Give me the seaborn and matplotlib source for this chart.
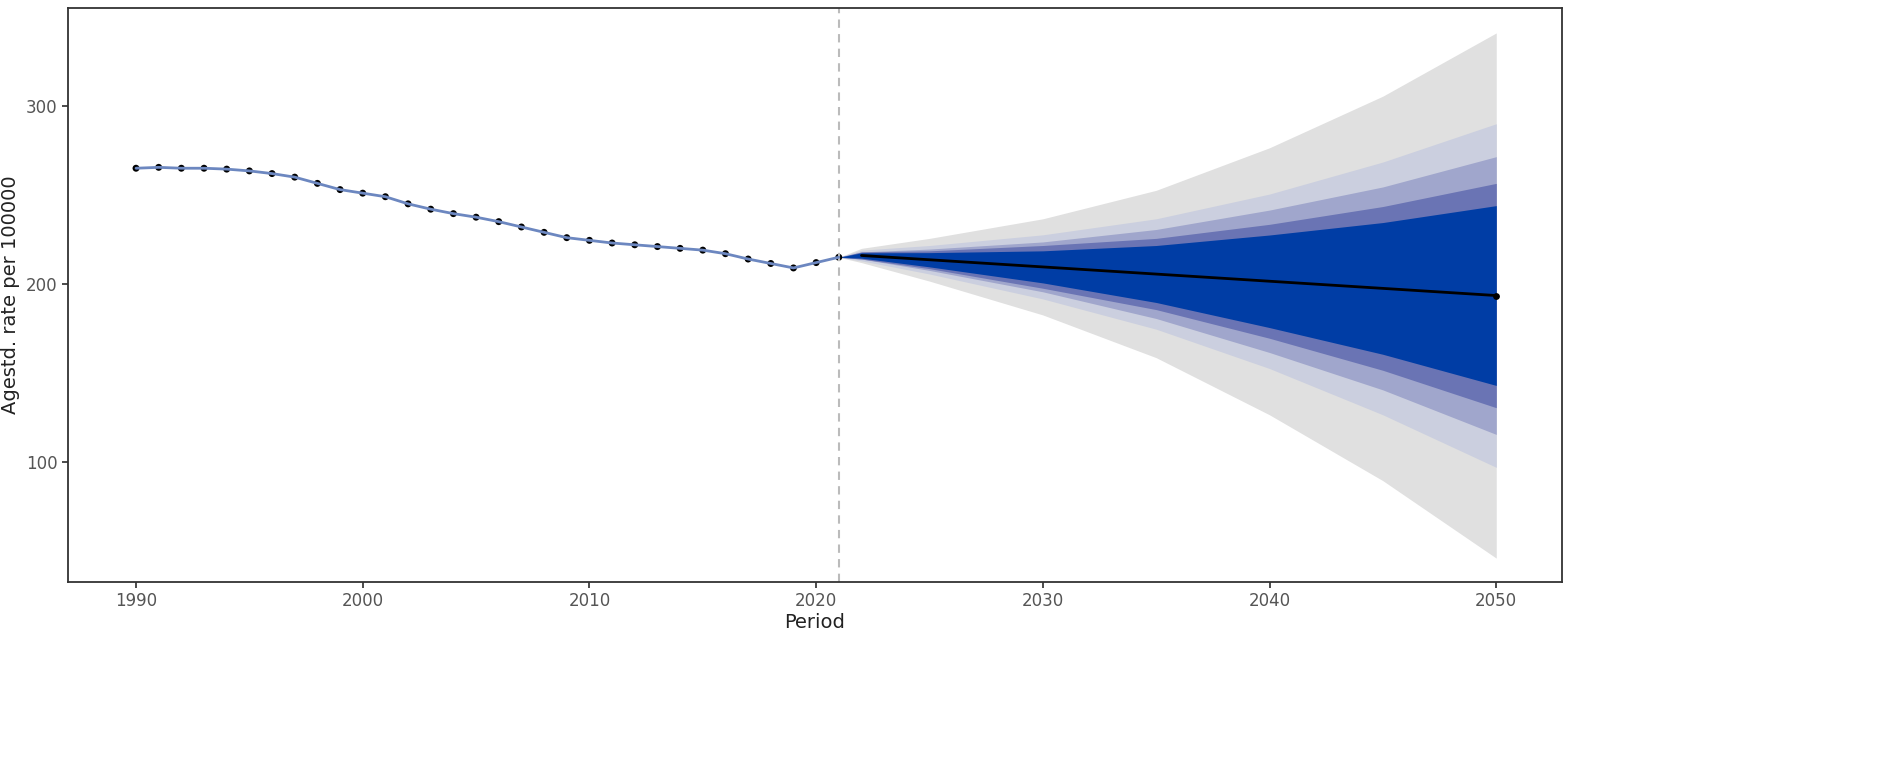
import matplotlib
matplotlib.use("Agg")
import matplotlib.pyplot as plt
import seaborn as sns
import pandas as pd
import numpy as np

obs_years = list(range(1990, 2022))
obs_rate = [265, 265.5, 265, 265, 264.5, 263.5, 262, 260, 256.5, 253, 251, 249, 245, 242,
            239.5, 237.5, 235, 232, 229, 226, 224.5, 223, 222, 221, 220, 219, 217, 214,
            211.5, 209, 212, 215]

fc_years = [2021, 2022, 2025, 2030, 2035, 2040, 2045, 2050]
fc_mean = [215, 216, 213.6, 209.6, 205.6, 201.5, 197.5, 193.5]
hw_outer = [0, 4, 12, 27, 47, 75, 108, 147.5]
hw_b2 = [0, 3, 8, 18, 31, 49, 71, 96.5]
hw_b3 = [0, 2, 6, 14, 25, 40, 57, 78]
hw_b4 = [0, 2, 5, 12, 20, 32, 46, 63]
hw_b5 = [0, 1.5, 4, 9, 16, 26, 37, 50.5]
band_colors = ["#E0E0E0", "#CBCFDF", "#A0A6CC", "#6A74B4", "#003DA5"]

sns.set_theme(style="white")
fig, ax = plt.subplots(figsize=(19.02, 7.7), dpi=100)
fig.subplots_adjust(left=0.036, right=0.821 + 0.0, top=0.99, bottom=0.245)
fig.subplots_adjust(left=0.036, right=0.821, top=0.99, bottom=0.245)
fig.subplots_adjust(left=68/1902, right=1562/1902, top=1-8/770, bottom=1-582/770)

m = np.array(fc_mean)
for hw, c in zip([hw_outer, hw_b2, hw_b3, hw_b4, hw_b5], band_colors):
    hw = np.array(hw)
    ax.fill_between(fc_years, m - hw, m + hw, color=c, linewidth=0)

ax.axvline(2021, color="#BBBBBB", linestyle=(0, (4, 3)), linewidth=1.5)

df = pd.DataFrame({"year": obs_years, "rate": obs_rate})
sns.lineplot(data=df, x="year", y="rate", color="#6C87C0", linewidth=2, ax=ax)
sns.scatterplot(data=df, x="year", y="rate", color="black", s=25, edgecolor="none", ax=ax)

dff = pd.DataFrame({"year": fc_years[1:], "rate": fc_mean[1:]})
sns.lineplot(data=dff.iloc[[0, -1]], x="year", y="rate", color="black", linewidth=2, ax=ax)
ax.scatter([fc_years[-1]], [fc_mean[-1]], color="black", s=15, zorder=5)

ax.set_xlim(1987.0, 2052.9)
ax.set_ylim(32.6, 355)
ax.set_xticks([1990, 2000, 2010, 2020, 2030, 2040, 2050])
ax.set_yticks([100, 200, 300])
ax.set_xlabel("Period", fontsize=14, color="#222222", labelpad=2)
ax.set_ylabel("Agestd. rate per 100000", fontsize=14, color="#222222")
ax.tick_params(axis="both", labelsize=12, labelcolor="#555555", length=4, color="#333333", left=True, bottom=True)
for s in ax.spines.values():
    s.set_color("#333333")
    s.set_linewidth(1.3)

fig.savefig("out.png", dpi=100)
